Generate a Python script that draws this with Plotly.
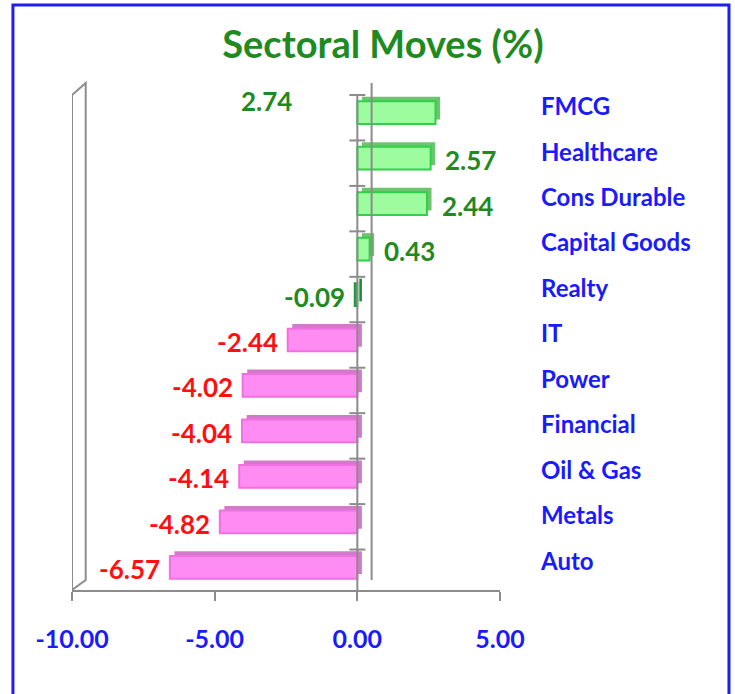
import plotly.graph_objects as go

categories = ["FMCG", "Healthcare", "Cons Durable", "Capital Goods", "Realty",
              "IT", "Power", "Financial", "Oil & Gas", "Metals", "Auto"]
values = [2.74, 2.57, 2.44, 0.43, -0.09, -2.44, -4.02, -4.04, -4.14, -4.82, -6.57]
tick_vals = [-10, -5, 0, 5]
title_text = "Sectoral Moves (%)"

FONT = "Lato"
GREEN_TXT = "#1f8a1f"
RED_TXT = "#ff1010"
BLUE_TXT = "#1a1aff"
GRAY = "#8c8c8c"

def front_color(v, name):
    if name == "Realty":
        return "#33b050"
    return "#9dfc9d" if v >= 0 else "#ff8cf2"

def edge_color(v, name):
    if name == "Realty":
        return "#1f9a3a"
    return "#2fd04a" if v >= 0 else "#f070e0"

def depth_color(v, name):
    if name == "Realty":
        return "#1f8a35"
    return "#6cc46c" if v >= 0 else "#d478cc"

DX = 0.16   # depth in x (data units)
DY = 0.10   # depth in y (category units)
W = 0.5

fig = go.Figure()
# depth (back face) trace
fig.add_trace(go.Bar(
    y=categories, x=values, base=DX, orientation="h", width=W,
    offset=-W / 2 - DY,
    marker=dict(color=[depth_color(v, c) for v, c in zip(values, categories)],
                line=dict(width=0)),
    hoverinfo="skip", showlegend=False))
# front face trace
fig.add_trace(go.Bar(
    y=categories, x=values, orientation="h", width=W, offset=-W / 2,
    marker=dict(color=[front_color(v, c) for v, c in zip(values, categories)],
                line=dict(color=[edge_color(v, c) for v, c in zip(values, categories)], width=2)),
    showlegend=False))

annotations = []
for i, (c, v) in enumerate(zip(categories, values)):
    col = GREEN_TXT if (v >= 0 or c == "Realty") else RED_TXT
    txt = f"{v:.2f}"
    f = dict(family=FONT, size=26, color=col, weight="bold")
    if i == 0:
        annotations.append(dict(x=-3.2, y=c, text=txt, showarrow=False, xanchor="center",
                                yshift=12, font=f))
    elif v >= 0:
        annotations.append(dict(x=v + DX, y=c, text=txt, showarrow=False, xanchor="left",
                                xshift=8, yshift=-2, font=f))
    else:
        annotations.append(dict(x=v, y=c, text=txt, showarrow=False, xanchor="right",
                                xshift=-8, yshift=-2, font=f))

shapes = []
n = len(categories)
# zero axis line with category ticks
shapes.append(dict(type="line", xref="x", yref="paper", x0=0, x1=0, y0=0, y1=0.99,
                   line=dict(color=GRAY, width=2)))
for k in range(n):
    yb = k - 0.39
    shapes.append(dict(type="line", xref="x", yref="y", x0=-0.28, x1=0.28, y0=yb, y1=yb,
                       line=dict(color=GRAY, width=2)))
# back wall line
shapes.append(dict(type="line", xref="x", yref="paper", x0=0.5, x1=0.5, y0=0.02, y1=1.014,
                   line=dict(color=GRAY, width=2)))
# left wall panel
shapes.append(dict(type="path", xref="x", yref="paper",
                   path="M -10,0 L -10,0.99 L -9.52,1.014 L -9.52,0.02 Z",
                   line=dict(color=GRAY, width=2), fillcolor="rgba(0,0,0,0)"))
# outer blue frame
shapes.append(dict(type="rect", xref="paper", yref="paper", x0=-0.138, x1=1.535,
                   y0=-0.25, y1=1.17, line=dict(color="#1e1ef0", width=3),
                   fillcolor="rgba(0,0,0,0)", layer="below"))

fig.update_layout(
    width=735, height=694,
    margin=dict(l=72, r=235, t=90, b=104),
    paper_bgcolor="white", plot_bgcolor="white",
    barmode="overlay",
    title=dict(text=title_text, x=0.521, xanchor="center", y=0.935, yanchor="middle",
               font=dict(family=FONT, size=38, color=GREEN_TXT, weight="bold")),
    annotations=annotations, shapes=shapes,
    xaxis=dict(range=[-10, 5], tickvals=tick_vals, ticktext=[f"{t:.2f}" for t in tick_vals],
               showgrid=False, zeroline=False, showline=True, linecolor=GRAY, linewidth=2,
               ticks="outside", ticklen=9, tickwidth=2, tickcolor=GRAY,
               ticklabelstandoff=17, automargin=False,
               tickfont=dict(family=FONT, size=25, color=BLUE_TXT, weight="bold")),
    yaxis=dict(range=[len(categories) - 0.5, -0.5], side="right", showgrid=False, zeroline=False,
               showline=False, ticks="", ticklabelstandoff=40, ticklabelshift=6,
               automargin=False,
               tickfont=dict(family=FONT, size=24, color=BLUE_TXT, weight="bold")),
)

fig.write_html("out.html", post_script="document.body.style.margin='0';",
               config={"displayModeBar": False})
